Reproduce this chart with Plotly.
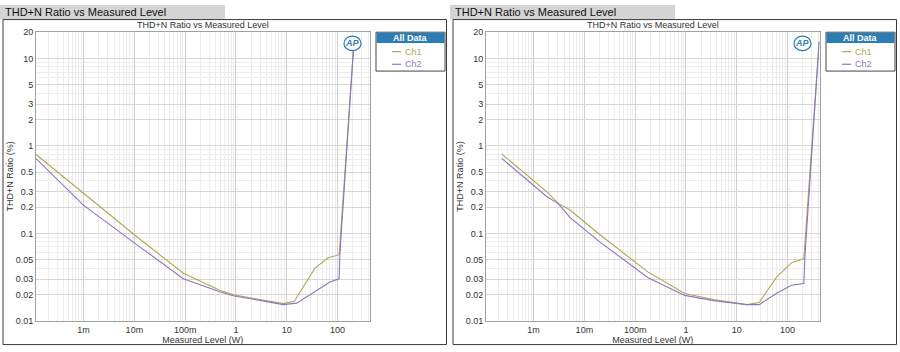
import plotly.graph_objects as go
import numpy as np

# ---------------- data ----------------
chart_title = "THD+N Ratio vs Measured Level"
x_label = "Measured Level (W)"
y_label = "THD+N Ratio (%)"
series_names = ["Ch1", "Ch2"]

# left panel
left_ch1_x = [1.16e-4, 1.55e-3, 0.0103, 0.092, 0.48, 0.885, 2.97, 8.53, 14.1, 35.9, 65.6, 108, 210]
left_ch1_y = [0.797, 0.232, 0.095, 0.035, 0.0224, 0.0198, 0.0175, 0.0157, 0.0167, 0.040, 0.0525, 0.057, 15]
left_ch2_x = [1.16e-4, 9.9e-4, 0.0103, 0.092, 0.48, 0.885, 2.97, 8.53, 15.7, 38.8, 70.8, 108, 111, 210]
left_ch2_y = [0.717, 0.21, 0.0769, 0.0302, 0.0215, 0.0193, 0.0171, 0.0153, 0.0159, 0.0224, 0.0277, 0.0302, 0.0566, 15]

# right panel
right_ch1_x = [2.36e-4, 1.81e-3, 3.06e-3, 5.2e-3, 0.02, 0.18, 0.95, 3.5, 15.7, 27.7, 61, 120, 210, 420]
right_ch1_y = [0.81, 0.30, 0.22, 0.185, 0.097, 0.036, 0.0205, 0.0175, 0.0153, 0.0162, 0.0315, 0.0462, 0.0515, 15.6]
right_ch2_x = [2.36e-4, 1.81e-3, 3.06e-3, 5.2e-3, 0.02, 0.18, 0.95, 3.5, 15.7, 27.7, 61, 120, 210, 220, 420]
right_ch2_y = [0.72, 0.264, 0.219, 0.152, 0.08, 0.031, 0.0195, 0.017, 0.0153, 0.0153, 0.0206, 0.0255, 0.0266, 0.0538, 15.6]

x_tickvals = [0.001, 0.01, 0.1, 1, 10, 100]
x_ticktext = ["1m", "10m", "100m", "1", "10", "100"]
y_tickvals = [0.01, 0.02, 0.03, 0.05, 0.1, 0.2, 0.3, 0.5, 1, 2, 3, 5, 10, 20]
y_ticktext = ["0.01", "0.02", "0.03", "0.05", "0.1", "0.2", "0.3", "0.5", "1", "2", "3", "5", "10", "20"]

# ---------------- style ----------------
W, H = 900, 352
C1 = "#aea850"
C2 = "#8c74c6"
FONT = "Liberation Sans"

def px(x):
    return x / W

def py(y):
    return 1 - y / H

x_minor = [m * 10.0 ** e for e in range(-4, 3) for m in range(1, 10)]
x_minor = [v for v in x_minor if v not in x_tickvals]
y_minor = [m * 10.0 ** e for e in range(-2, 2) for m in range(1, 10)]
y_minor = [v for v in y_minor if not any(abs(v - t) < 1e-9 for t in y_tickvals)]

fig = go.Figure()

panels = [
    (0, left_ch1_x, left_ch1_y, left_ch2_x, left_ch2_y, "x", "y"),
    (450, right_ch1_x, right_ch1_y, right_ch2_x, right_ch2_y, "x2", "y2"),
]

shapes = []
annotations = []
layout_axes = {}

plot_left, plot_right, plot_top, plot_bottom = 36, 369.5, 28, 325

for off, c1x, c1y, c2x, c2y, xa, ya in panels:
    fig.add_trace(go.Scatter(x=c1x, y=c1y, mode="lines", name=series_names[0],
                             line=dict(color=C1, width=1.1), xaxis=xa, yaxis=ya, showlegend=False))
    fig.add_trace(go.Scatter(x=c2x, y=c2y, mode="lines", name=series_names[1],
                             line=dict(color=C2, width=1.1), xaxis=xa, yaxis=ya, showlegend=False))

    xkey = "xaxis" if xa == "x" else "xaxis2"
    ykey = "yaxis" if ya == "y" else "yaxis2"
    layout_axes[xkey] = dict(
        type="log", range=[-3.937, 2.63],
        domain=[px(off + plot_left), px(off + plot_right)],
        anchor=ya, tickvals=x_tickvals, ticktext=x_ticktext,
        showgrid=True, gridcolor="#cfcfcf", gridwidth=1,
        minor=dict(tickvals=x_minor, showgrid=True, gridcolor="#ececec", gridwidth=1, ticks=""),
        showline=True, linecolor="#a0a0a0", linewidth=1, mirror=True,
        ticks="", tickfont=dict(family=FONT, size=9, color="#333333"),
        zeroline=False,
        title=dict(text=x_label, font=dict(family=FONT, size=9, color="#333333"), standoff=2),
    )
    layout_axes[ykey] = dict(
        type="log", range=[-2, np.log10(20)],
        domain=[py(plot_bottom), py(plot_top)],
        anchor=xa, tickvals=y_tickvals, ticktext=y_ticktext,
        showgrid=True, gridcolor="#d6d6d6", gridwidth=1,
        minor=dict(tickvals=y_minor, showgrid=True, gridcolor="#ededed", gridwidth=1, ticks=""),
        showline=True, linecolor="#a0a0a0", linewidth=1, mirror=True,
        ticks="", tickfont=dict(family=FONT, size=9, color="#333333"),
        zeroline=False,
        title=dict(text=y_label, font=dict(family=FONT, size=9, color="#333333"), standoff=0),
    )

    # outer frame and title tab
    shapes.append(dict(type="rect", xref="paper", yref="paper",
                       x0=px(off + 0), x1=px(off + 225), y0=py(15), y1=py(0),
                       fillcolor="#d4d4d4", line=dict(width=0), layer="below"))
    shapes.append(dict(type="rect", xref="paper", yref="paper",
                       x0=px(off + 3), x1=px(off + 446.5), y0=py(349.5), y1=py(15),
                       line=dict(color="#3a3a3a", width=1), layer="below"))
    annotations.append(dict(text=chart_title, xref="paper", yref="paper",
                            x=px(off + 3), y=py(7.5), xanchor="left", yanchor="middle",
                            showarrow=False, font=dict(family=FONT, size=11, color="#111111")))
    # inner title
    annotations.append(dict(text=chart_title, xref="paper", yref="paper",
                            x=px(off + (plot_left + plot_right) / 2), y=py(21), xanchor="center",
                            yanchor="middle", showarrow=False,
                            font=dict(family=FONT, size=9, color="#333333")))
    # legend box
    shapes.append(dict(type="rect", xref="paper", yref="paper",
                       x0=px(off + 376), x1=px(off + 445), y0=py(68), y1=py(28),
                       fillcolor="white", line=dict(color="#444444", width=1)))
    shapes.append(dict(type="rect", xref="paper", yref="paper",
                       x0=px(off + 376.5), x1=px(off + 444.5), y0=py(39), y1=py(28.5),
                       fillcolor="#2d7db5", line=dict(width=0)))
    annotations.append(dict(text="<b>All Data</b>", xref="paper", yref="paper",
                            x=px(off + 410.5), y=py(33.5), xanchor="center", yanchor="middle",
                            showarrow=False, font=dict(family=FONT, size=9, color="white")))
    for i, (nm, col) in enumerate([(series_names[0], C1), (series_names[1], C2)]):
        yy = 48 + i * 13
        shapes.append(dict(type="line", xref="paper", yref="paper",
                           x0=px(off + 392), x1=px(off + 401), y0=py(yy), y1=py(yy),
                           line=dict(color=col, width=1.2)))
        annotations.append(dict(text=nm, xref="paper", yref="paper",
                                x=px(off + 403), y=py(yy), xanchor="left", yanchor="middle",
                                showarrow=False, font=dict(family=FONT, size=9, color=col)))
    # AP logo
    shapes.append(dict(type="circle", xref="paper", yref="paper",
                       x0=px(off + 344), x1=px(off + 361), y0=py(47), y1=py(32),
                       fillcolor="white", line=dict(color="#2d7db5", width=1.2)))
    annotations.append(dict(text="<b><i>AP</i></b>", xref="paper", yref="paper",
                            x=px(off + 352.5), y=py(39.5), xanchor="center", yanchor="middle",
                            showarrow=False, font=dict(family=FONT, size=9, color="#2d7db5")))

fig.update_layout(
    width=W, height=H, margin=dict(l=0, r=0, t=0, b=0),
    paper_bgcolor="white", plot_bgcolor="white",
    shapes=shapes, annotations=annotations, showlegend=False,
    **layout_axes,
)

fig.write_html("out.html")
